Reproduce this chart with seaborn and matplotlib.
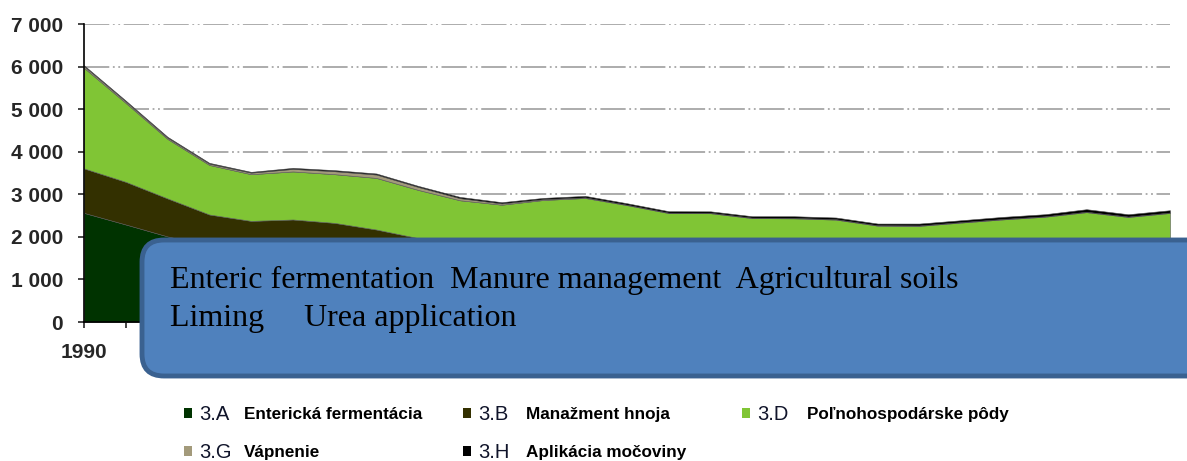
import numpy as np
import pandas as pd
import seaborn as sns
import matplotlib.pyplot as plt
from matplotlib.patches import FancyBboxPatch, Rectangle
from matplotlib.ticker import FuncFormatter

# Emissions from agriculture by category, 1990-2016
years = list(range(1990, 2017))
enteric = [2563, 2290, 2010, 1800, 1650, 1640, 1600, 1500, 1400, 1300, 1250, 1230, 1240, 1200,
           1150, 1120, 1100, 1080, 1050, 1000, 980, 990, 1000, 1010, 1030, 1020, 1040]
manure = [1044, 1002, 892, 725, 725, 768, 728, 672, 570, 540, 520, 510, 510, 500,
          480, 470, 460, 450, 440, 420, 410, 410, 420, 420, 430, 420, 430]
soils = [2363, 1853, 1398, 1164, 1097, 1128, 1144, 1212, 1133, 1019, 985, 1126, 1163, 1045,
         928, 965, 880, 905, 915, 843, 868, 936, 990, 1042, 1120, 1027, 1091]
liming = [40, 35, 30, 30, 35, 60, 70, 80, 70, 50, 30, 20, 15, 10,
          10, 10, 10, 10, 10, 10, 10, 10, 10, 10, 10, 10, 10]
urea = [20, 20, 20, 20, 20, 25, 25, 25, 25, 30, 30, 30, 35, 35,
        35, 35, 35, 40, 40, 40, 45, 45, 50, 50, 60, 55, 55]

codes = ['3.A', '3.B', '3.D', '3.G', '3.H']
names = ['Enterická fermentácia', 'Manažment hnoja', 'Poľnohospodárske pôdy',
         'Vápnenie', 'Aplikácia močoviny']
colors = ['#003300', '#333000', '#80C535', '#A39A7B', '#000000']

df = pd.DataFrame({'year': years, '3.A': enteric, '3.B': manure, '3.D': soils,
                   '3.G': liming, '3.H': urea})

sns.set_style('white')
plt.rcParams['font.family'] = ['Liberation Sans', 'DejaVu Sans']

fig = plt.figure(figsize=(11.87, 4.61), dpi=100)
ax = fig.add_axes([84 / 1187, 139 / 461, 1086 / 1187, 298 / 461])

ax.stackplot(df['year'], [df[c] for c in codes], colors=colors, linewidth=0.4,
             edgecolor='#555555')

ax.set_xlim(1990, 2016)
ax.set_ylim(0, 7000)
ax.set_yticks(range(0, 7001, 1000))
ax.yaxis.set_major_formatter(FuncFormatter(lambda v, p: f'{int(v):,}'.replace(',', ' ')))
ax.set_xticks(years)
ax.set_xticklabels([str(y) if y % 2 == 0 and y < 2016 else '' for y in years])
for lab in ax.get_yticklabels() + ax.get_xticklabels():
    lab.set_fontweight('bold')
ax.tick_params(axis='y', labelsize=15, length=4, width=1.2, direction='out', pad=11, left=True)
ax.tick_params(axis='x', labelsize=15, length=4, width=1.2, direction='out', pad=11, bottom=True)

ax.grid(axis='y', color='#A6A6A6', linewidth=1.3, dashes=(14, 2, 1, 2, 1, 2))
ax.set_axisbelow(True)
for s in ['top', 'right']:
    ax.spines[s].set_visible(False)
for s in ['left', 'bottom']:
    ax.spines[s].set_color('black')
    ax.spines[s].set_linewidth(1.2)

# overlay in pixel units for the call-out box and the legend
ov = fig.add_axes([0, 0, 1, 1], zorder=5)
ov.set_xlim(0, 1187)
ov.set_ylim(461, 0)
ov.axis('off')
ov.patch.set_alpha(0)

box = FancyBboxPatch((142, 240), 1100, 136, boxstyle='round,pad=0,rounding_size=22',
                     facecolor='#4F81BD', edgecolor='#3A6190', linewidth=3.5)
ov.add_patch(box)
serif = ['Liberation Serif', 'DejaVu Serif']
ov.text(170, 288, 'Enteric fermentation  Manure management  Agricultural soils',
        family=serif, fontsize=23, va='baseline', ha='left', color='black')
ov.text(170, 326, 'Liming     Urea application',
        family=serif, fontsize=23, va='baseline', ha='left', color='black')

# legend
leg_x = [184, 463, 742, 184, 463]
leg_y = [413, 413, 413, 451, 451]
name_off = [60, 63, 65, 60, 63]
for i in range(len(codes)):
    x, y = leg_x[i], leg_y[i]
    ov.add_patch(Rectangle((x, y - 5), 8, 10, facecolor=colors[i], edgecolor='none'))
    ov.text(x + 15, y + 1, codes[i], fontsize=14.5, va='center', ha='left', color='#10142A')
    ov.text(x + name_off[i], y + 1, names[i], fontsize=12.3, fontweight='bold', va='center',
            ha='left', color='black')

fig.savefig('out.png', dpi=100)
